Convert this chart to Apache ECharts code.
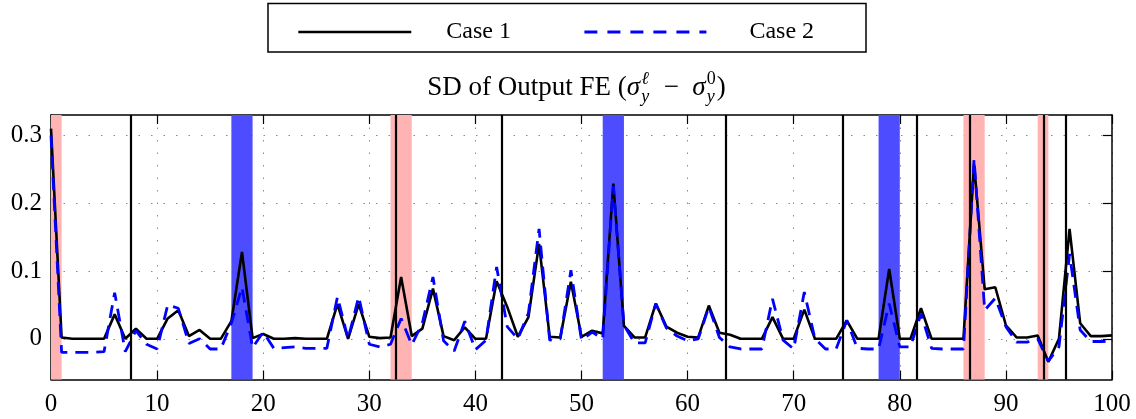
<!DOCTYPE html>
<html>
<head>
<meta charset="utf-8">
<script src="https://cdn.jsdelivr.net/npm/echarts@6/dist/echarts.min.js"></script>
<style>
html,body{margin:0;padding:0;background:#fff;}
#chart{width:1136px;height:419px;}
</style>
</head>
<body>
<div id="chart"></div>
<script>
// ---------- data ----------
const xValues = Array.from({length: 101}, (_, i) => i);
const case1 = [
  0.310, 0.002, 0.000, 0.000, 0.000, 0.000, 0.036, 0.000, 0.015, 0.000,
  0.000, 0.030, 0.042, 0.004, 0.013, 0.000, 0.000, 0.026, 0.128, 0.001,
  0.007, 0.000, 0.000, 0.001, 0.000, 0.000, 0.000, 0.051, 0.000, 0.051,
  0.003, 0.001, 0.002, 0.091, 0.004, 0.015, 0.074, 0.004, -0.002, 0.017,
  0.000, 0.000, 0.085, 0.047, 0.003, 0.032, 0.140, 0.003, 0.002, 0.084,
  0.003, 0.012, 0.008, 0.229, 0.019, 0.002, 0.002, 0.052, 0.018, 0.009,
  0.003, 0.002, 0.049, 0.009, 0.006, 0.000, 0.000, 0.000, 0.032, 0.000,
  0.000, 0.043, 0.000, 0.000, 0.000, 0.027, 0.000, 0.000, 0.000, 0.103,
  0.000, 0.000, 0.045, 0.000, 0.000, 0.000, 0.000, 0.258, 0.073, 0.076,
  0.020, 0.002, 0.002, 0.005, -0.034, 0.000, 0.162, 0.023, 0.004, 0.004,
  0.005
];
const case2 = [
  0.300, -0.020, -0.020, -0.020, -0.020, -0.019, 0.068, -0.019, 0.012, -0.008,
  -0.015, 0.050, 0.045, -0.007, 0.000, -0.015, -0.015, 0.023, 0.076, -0.013,
  0.010, -0.014, -0.013, -0.012, -0.014, -0.014, -0.014, 0.062, 0.000, 0.062,
  -0.008, -0.012, -0.008, 0.030, -0.009, 0.023, 0.091, -0.003, -0.018, 0.026,
  -0.016, -0.002, 0.106, 0.018, 0.000, 0.038, 0.162, -0.002, 0.000, 0.101,
  -0.002, 0.010, 0.000, 0.225, 0.020, -0.006, -0.006, 0.052, 0.016, 0.004,
  -0.003, 0.000, 0.047, 0.002, -0.012, -0.015, -0.015, -0.015, 0.059, -0.002,
  -0.015, 0.069, 0.000, -0.015, -0.015, 0.027, -0.014, -0.015, -0.015, 0.052,
  -0.012, -0.012, 0.037, -0.014, -0.015, -0.015, -0.015, 0.265, 0.042, 0.060,
  0.018, -0.005, -0.005, 0.000, -0.033, -0.012, 0.125, 0.013, -0.004, -0.004,
  -0.003
];
const verticalLines = [7.55, 32.5, 42.5, 63.6, 74.6, 81.6, 86.6, 93.6, 95.6];
const redBands = [[0, 1], [32, 34], [86, 88], [93, 94]];
const blueBands = [[17, 19], [52, 54], [78, 80]];
const xTicks = [0, 10, 20, 30, 40, 50, 60, 70, 80, 90, 100];
const yTicks = [0, 0.1, 0.2, 0.3];
const seriesNames = ['Case 1', 'Case 2'];

// ---------- chart ----------
const chart = echarts.init(document.getElementById('chart'), null, {renderer: 'canvas'});
const FONT = '"Liberation Serif", "Times New Roman", serif';

const gridLine = {show: true, lineStyle: {color: '#8a8a8a', width: 1, type: [1.5, 11]}};
const border = {show: true, onZero: false, lineStyle: {color: '#000', width: 1.5}};
const tick = (vals) => ({show: true, inside: true, length: 9, customValues: vals, lineStyle: {color: '#000', width: 1.2}});

function bandData(bands) {
  return bands.map(b => [{xAxis: b[0]}, {xAxis: b[1]}]);
}

const legendCommon = {top: 15, itemHeight: 14, itemGap: 0, itemStyle: {opacity: 0}};

const option = {
  animation: false,
  backgroundColor: '#fff',
  grid: {left: 51, right: 24, top: 115, bottom: 39.5, containLabel: false},
  xAxis: [
    {type: 'value', min: 0, max: 100, position: 'bottom',
      axisLine: border, axisTick: tick(xTicks), splitLine: gridLine,
      axisLabel: {customValues: xTicks, color: '#000', fontSize: 25, fontFamily: FONT, margin: 12}},
    {type: 'value', min: 0, max: 100, position: 'top',
      axisLine: border, axisTick: tick(xTicks), splitLine: {show: false}, axisLabel: {show: false}}
  ],
  yAxis: [
    {type: 'value', min: -0.06, max: 0.33, position: 'left',
      axisLine: border, axisTick: tick(yTicks), splitLine: gridLine,
      axisLabel: {customValues: yTicks, color: '#000', fontSize: 25, fontFamily: FONT, margin: 9,
        formatter: v => (Math.abs(v) < 1e-9 ? '0' : v.toFixed(1))}},
    {type: 'value', min: -0.06, max: 0.33, position: 'right',
      axisLine: border, axisTick: tick(yTicks), splitLine: {show: false}, axisLabel: {show: false}}
  ],
  legend: [
    Object.assign({data: [seriesNames[0]], left: 292, itemWidth: 113,
      lineStyle: {width: 2.6, color: '#000', type: 'solid'},
      textStyle: {fontSize: 24, fontFamily: FONT, color: '#000', padding: [0, 0, 0, 30]}}, legendCommon),
    Object.assign({data: [seriesNames[1]], left: 578, itemWidth: 122,
      lineStyle: {width: 2.8, color: '#0000ff', type: [13, 10]},
      textStyle: {fontSize: 24, fontFamily: FONT, color: '#000', padding: [0, 0, 0, 38]}}, legendCommon)
  ],
  series: [
    {name: 'bands', type: 'line', data: [], z: 1, silent: true,
      markArea: {silent: true, itemStyle: {color: '#ffb3b3', opacity: 1}, data: bandData(redBands)}},
    {name: 'bands2', type: 'line', data: [], z: 1, silent: true,
      markArea: {silent: true, itemStyle: {color: '#4d4dff', opacity: 1}, data: bandData(blueBands)}},
    {name: seriesNames[0], type: 'line', z: 3, symbol: 'none', showSymbol: false,
      data: xValues.map((x, i) => [x, case1[i]]),
      lineStyle: {color: '#000', width: 2.6}, itemStyle: {color: '#000'},
      markLine: {silent: true, symbol: 'none', label: {show: false},
        lineStyle: {color: '#000', width: 2.2, type: 'solid'},
        data: verticalLines.map(v => ({xAxis: v}))}},
    {name: seriesNames[1], type: 'line', z: 4, symbol: 'none', showSymbol: false,
      data: xValues.map((x, i) => [x, case2[i]]),
      lineStyle: {color: '#0000ff', width: 2.8, type: [13, 8]}, itemStyle: {color: '#0000ff'}}
  ]
};
chart.setOption(option);

// ---------- legend box & title with math ----------
const ctx = document.createElement('canvas').getContext('2d');
const F = 27, S = 18;
function measure(t, size, italic) {
  ctx.font = (italic ? 'italic ' : '') + size + 'px "Liberation Serif"';
  return ctx.measureText(t).width;
}
const pieces = [
  {t: 'SD of Output FE (', it: false},
  {t: 'σ', it: true},
  {sup: 'ℓ', supIt: true, sub: 'y'},
  {t: '  −  ', it: false},
  {t: 'σ', it: true},
  {sup: '0', supIt: false, sub: 'y'},
  {t: ')', it: false}
];
const widths = pieces.map(p => p.t !== undefined ? measure(p.t, F, p.it)
  : Math.max(measure(p.sup, S, p.supIt), measure(p.sub, S, true)) + 2);
const total = widths.reduce((a, b) => a + b, 0);
let cx = 576.5 - total / 2;
const midY = 88;
const elements = [
  {type: 'rect', z: 0, shape: {x: 268, y: 3.5, width: 598, height: 48.5},
    style: {fill: '#fff', stroke: '#000', lineWidth: 1.5}}
];
function txt(t, x, y, size, italic) {
  return {type: 'text', x: x, y: y, z: 10,
    style: {text: t, fontSize: size, fontFamily: FONT, fontStyle: italic ? 'italic' : 'normal',
      fill: '#000', align: 'left', verticalAlign: 'middle'}};
}
pieces.forEach((p, i) => {
  if (p.t !== undefined) {
    elements.push(txt(p.t, cx, midY, F, p.it));
  } else {
    elements.push(txt(p.sup, cx + 1, midY - 9, S, p.supIt));
    elements.push(txt(p.sub, cx + 1, midY + 9, S, true));
  }
  cx += widths[i];
});
chart.setOption({graphic: elements});
</script>
</body>
</html>
